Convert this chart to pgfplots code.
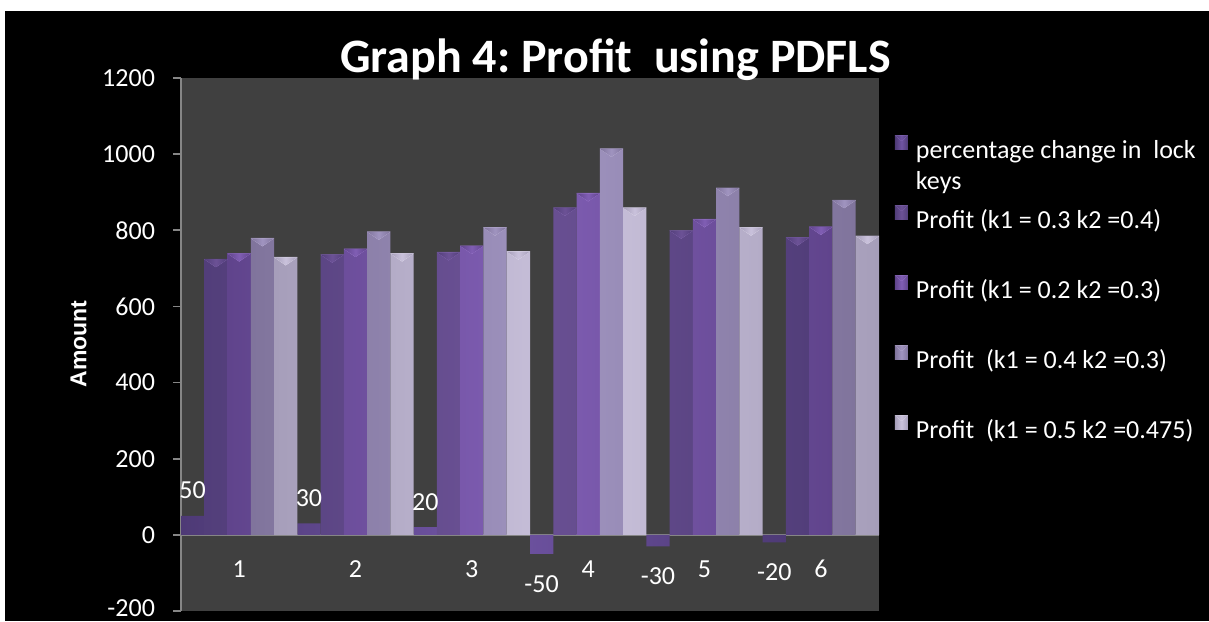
\documentclass[border=0pt]{standalone}
\usepackage{pgfplots}
\pgfplotsset{compat=1.18}
\usepackage{fontspec}
\setmainfont{Carlito}
\newfontfamily\lsans{Liberation Sans}
\definecolor{plotbg}{RGB}{64,64,64}
\definecolor{axgray}{RGB}{134,134,134}
% series colours: edge, middle, cap
\definecolor{sAe}{RGB}{78,58,118}\definecolor{sAm}{RGB}{112,84,164}\definecolor{sAc}{RGB}{176,146,226}
\definecolor{sBe}{RGB}{82,62,122}\definecolor{sBm}{RGB}{108,82,150}\definecolor{sBc}{RGB}{168,136,214}
\definecolor{sCe}{RGB}{96,68,140}\definecolor{sCm}{RGB}{128,94,180}\definecolor{sCc}{RGB}{196,160,242}
\definecolor{sDe}{RGB}{128,116,156}\definecolor{sDm}{RGB}{160,148,192}\definecolor{sDc}{RGB}{226,218,242}
\definecolor{sEe}{RGB}{166,158,186}\definecolor{sEm}{RGB}{202,194,220}\definecolor{sEc}{RGB}{252,250,255}
\newcommand{\legsq}[3]{\fill[left color=#1,right color=#1,middle color=#2] (0pt,0pt) rectangle (6.5pt,7pt);
  \fill[#3] (0pt,7pt)--(6.5pt,7pt)--(3.25pt,4.2pt)--cycle;}
\newcommand{\barcap}[1]{\tikz\fill[#1] (0pt,0pt)--(11.6pt,0pt)--(5.8pt,-4pt)--cycle;}
\begin{document}
\begin{tikzpicture}
\fill[white] (0,0) rectangle (604.5pt,310.5pt);
\fill[black] (2.5pt,0) rectangle (604.5pt,305pt);
\begin{axis}[
  at={(90.5pt,5pt)}, anchor=south west,
  scale only axis, width=349pt, height=266.5pt,
  xmin=0.5, xmax=6.5, ymin=-200, ymax=1200,
  ytick={-200,0,200,400,600,800,1000,1200},
  yticklabels={\raisebox{3pt}{-200},0,200,400,600,800,1000,1200},
  xtick={1,2,3,4,5,6},
  axis background/.style={fill=plotbg},
  axis x line*=middle, axis y line*=left,
  axis line style={axgray, line width=1pt},
  xtick style={draw=none},
  ytick style={draw=axgray, line width=0.9pt},
  ytick align=outside, major tick length=4pt,
  /pgf/number format/assume math mode=true,
  /pgf/number format/1000 sep={},
  tick label style={text=white, font=\fontsize{13}{15}\selectfont},
  yticklabel style={anchor=east, inner ysep=0pt, xshift=-5.5pt},
  xticklabel style={anchor=center, yshift=-17pt},
  every axis title shift=0pt,
  title={Graph 4:\ Profit\ \ using PDFLS},
  title style={font=\fontsize{24}{28}\selectfont\bfseries, text=white,
    at={(axis description cs:0.6225,1.0094)}, anchor=base},
  ylabel={Amount},
  ylabel style={font=\lsans\bfseries\fontsize{11.5}{13}\selectfont, text=white,
    at={(axis description cs:-0.1468,0.501)}, anchor=center},
  legend style={draw=none, fill=none, inner sep=0pt, outer sep=0pt,
    at={(axis description cs:1.0229,0.8924)}, anchor=north west,
    font=\fontsize{13}{15.5}\selectfont, text=white,
    row sep=23.5pt, column sep=4pt,
    nodes={inner sep=0pt, text height=9pt, text depth=0pt}},
  legend cell align=left,
]
\addplot[ybar, bar width=0.2, bar shift=-0.4, draw=none,
  left color=sAe, right color=sAe, middle color=sAm,
  legend image code/.code={\legsq{sAe}{sAm}{sAc}},
  nodes near coords={\pgfmathprintnumber{\pgfplotspointmeta}},
  visualization depends on={y \as \rawy},
  every node near coord/.append style={text=white, font=\fontsize{13}{15}\selectfont,
    anchor=center, inner sep=0pt, xshift=-23.27pt, yshift={(\rawy<0 ? -15 : 12.75)*1pt}}]
  coordinates {(1,50) (2,30) (3,20) (4,-50) (5,-30) (6,-20)};
\addlegendentry{\parbox[t]{150pt}{percentage change in\ \ lock\newline keys}}
\addplot[ybar, bar width=0.2, bar shift=-0.2, draw=none,
  left color=sBe, right color=sBe, middle color=sBm,
  legend image code/.code={\legsq{sBe}{sBm}{sBc}},
  nodes near coords={\barcap{sBc}},
  every node near coord/.append style={anchor=north, inner sep=0pt, xshift=-11.63pt}]
  coordinates {(1,725) (2,737) (3,743) (4,860) (5,800) (6,782)};
\addlegendentry{Profit (k1 = 0.3 k2 =0.4)}
\addplot[ybar, bar width=0.2, bar shift=0, draw=none,
  left color=sCe, right color=sCe, middle color=sCm,
  legend image code/.code={\legsq{sCe}{sCm}{sCc}},
  nodes near coords={\barcap{sCc}},
  every node near coord/.append style={anchor=north, inner sep=0pt}]
  coordinates {(1,740) (2,752) (3,760) (4,898) (5,830) (6,810)};
\addlegendentry{Profit (k1 = 0.2 k2 =0.3)}
\addplot[ybar, bar width=0.2, bar shift=0.2, draw=none,
  left color=sDe, right color=sDe, middle color=sDm,
  legend image code/.code={\legsq{sDe}{sDm}{sDc}},
  nodes near coords={\barcap{sDc}},
  every node near coord/.append style={anchor=north, inner sep=0pt, xshift=11.63pt}]
  coordinates {(1,780) (2,797) (3,808) (4,1015) (5,912) (6,880)};
\addlegendentry{Profit\ \ (k1 = 0.4 k2 =0.3)}
\addplot[ybar, bar width=0.2, bar shift=0.4, draw=none,
  left color=sEe, right color=sEe, middle color=sEm,
  legend image code/.code={\legsq{sEe}{sEm}{sEc}},
  nodes near coords={\barcap{sEc}},
  every node near coord/.append style={anchor=north, inner sep=0pt, xshift=23.27pt}]
  coordinates {(1,730) (2,740) (3,745) (4,860) (5,808) (6,786)};
\addlegendentry{Profit\ \ (k1 = 0.5 k2 =0.475)}
\end{axis}
\pgfresetboundingbox
\path[use as bounding box] (0,0) rectangle (604.5pt,310.5pt);
\end{tikzpicture}
\end{document}
